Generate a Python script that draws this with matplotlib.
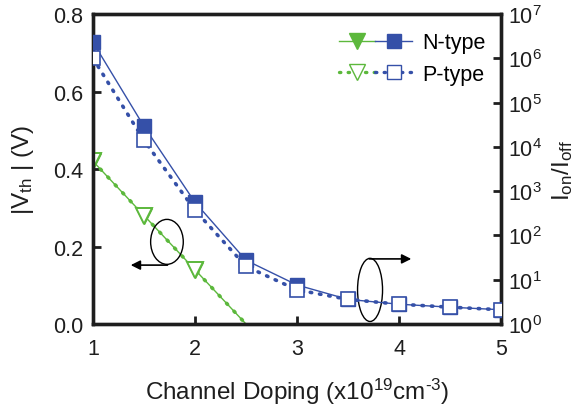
import math
import matplotlib
matplotlib.use("Agg")
import matplotlib.pyplot as plt
from matplotlib.patches import Ellipse
from matplotlib.legend_handler import HandlerTuple
from matplotlib.lines import Line2D
from matplotlib.ticker import FixedLocator, FuncFormatter

plt.rcParams['font.family'] = ['Liberation Sans', 'DejaVu Sans']
plt.rcParams['mathtext.fontset'] = 'custom'
plt.rcParams['mathtext.rm'] = 'Liberation Sans'
plt.rcParams['mathtext.it'] = 'Liberation Sans'
plt.rcParams['mathtext.default'] = 'rm'

# Threshold voltage (left axis)
vth_doping = [1.0, 1.5, 2.0, 2.5]
vth_n = [0.42, 0.28, 0.14, 0.0]
vth_p = [0.42, 0.28, 0.14, 0.0]

# Ion/Ioff (right axis, log)
ratio_doping = [1.0, 1.5, 2.0, 2.5, 3.0, 3.5, 4.0, 4.5, 5.0]
ratio_n = [2.3e6, 2.9e4, 5.6e2, 2.75e1, 7.6, 3.6, 2.8, 2.4, 2.1]
ratio_p = [1.0e6, 1.4e4, 3.7e2, 2.0e1, 5.9, 3.6, 2.8, 2.4, 2.1]

green = '#5cb83c'
blue = '#3550a8'
dark = '#1e1e1e'

fig = plt.figure(figsize=(5.86, 4.10), dpi=100)
ax1 = fig.add_axes([0.1587, 0.2073, 0.6963, 0.7561])
ax2 = ax1.twinx()

# left axis: green
ax1.plot(vth_doping, vth_n, color=green, lw=1.0, ls='-', zorder=2)
ax1.plot(vth_doping, vth_p, color=green, lw=2.6, ls=(0, (0.4, 2.6)),
         dash_capstyle='round', zorder=3)
ax1.plot(vth_doping[:-1], vth_n[:-1], ls='none', marker='v', ms=12,
         mfc=green, mec=green, zorder=4)
ax1.plot(vth_doping[:-1], vth_p[:-1], ls='none', marker='v', ms=12,
         mfc='white', mec=green, mew=1.4, zorder=5)

# right axis: blue
ax2.plot(ratio_doping, ratio_n, color=blue, lw=1.0, ls='-', marker='s', ms=10.5,
         mfc=blue, mec=blue, zorder=3)
ax2.plot(ratio_doping, ratio_p, color=blue, lw=2.6, ls=(0, (0.4, 2.2)),
         dash_capstyle='round', marker='s', ms=10.5, mfc='white', mec=blue,
         mew=1.2, zorder=4)

ax1.set_xlim(1, 5)
ax1.set_ylim(0, 0.8)
ax2.set_yscale('log')
ax2.set_ylim(1, 1e7)

ax1.set_xticks([1, 2, 3, 4, 5])
ax1.set_yticks([0.0, 0.2, 0.4, 0.6, 0.8])
ax1.yaxis.set_major_formatter(FuncFormatter(lambda v, p: f'{v:.1f}'))
ax2.yaxis.set_major_locator(FixedLocator([10.0**k for k in range(8)]))
ax2.yaxis.set_minor_locator(FixedLocator([]))
ax2.yaxis.set_major_formatter(FuncFormatter(lambda v, p: r'$10^{%d}$' % round(math.log10(v))))

for ax in (ax1, ax2):
    for s in ax.spines.values():
        s.set_linewidth(2.4)
        s.set_color(dark)
    ax.tick_params(direction='in', length=6, width=2, labelsize=15.5, colors=dark, pad=7)
ax1.tick_params(axis='x', pad=10)
ax2.tick_params(axis='y', labelsize=15.5, pad=5)

ax1.set_xlabel(r'Channel Doping (x10$^{19}$cm$^{\text{-}3}$)', fontsize=17.5, color=dark, labelpad=12)
ax1.set_ylabel('|V$_{th}$ | (V)', fontsize=17.5, color=dark, labelpad=12)
ax2.set_ylabel('I$_{on}$/I$_{off}$', fontsize=17.5, color=dark, labelpad=6)

# annotations
e1 = Ellipse((1.725, 0.212), 0.32, 0.116, fill=False, lw=1.0, color='black', zorder=6)
ax1.add_patch(e1)
ax1.annotate('', xy=(1.37, 0.152), xytext=(1.73, 0.152),
             arrowprops=dict(arrowstyle='-|>', lw=1.2, color='black',
                             mutation_scale=14, shrinkA=0, shrinkB=0))
e2 = Ellipse((3.716, 0.088), 0.245, 0.163, fill=False, lw=1.0, color='black', zorder=6)
ax1.add_patch(e2)
ax1.annotate('', xy=(4.12, 0.168), xytext=(3.71, 0.168),
             arrowprops=dict(arrowstyle='-|>', lw=1.2, color='black',
                             mutation_scale=14, shrinkA=0, shrinkB=0))

# legend
hn = (Line2D([], [], color=green, lw=1.0, marker='v', ms=12, mfc=green, mec=green),
      Line2D([], [], color=blue, lw=1.0, marker='s', ms=10.5, mfc=blue, mec=blue))
hp = (Line2D([], [], color=green, lw=2.4, ls=(0, (0.4, 2.2)), dash_capstyle='round',
             marker='v', ms=12, mfc='white', mec=green),
      Line2D([], [], color=blue, lw=2.4, ls=(0, (0.4, 2.2)), dash_capstyle='round',
             marker='s', ms=10.5, mfc='white', mec=blue))
leg = ax2.legend([hn, hp], ['N-type', 'P-type'],
                 handler_map={tuple: HandlerTuple(ndivide=None, pad=0.0)},
                 loc='upper right', bbox_to_anchor=(1.0, 0.99), frameon=False,
                 fontsize=15.5, handlelength=3.4, handletextpad=0.5, labelspacing=0.5,
                 borderaxespad=0.3)

fig.savefig('out.png', dpi=100)
